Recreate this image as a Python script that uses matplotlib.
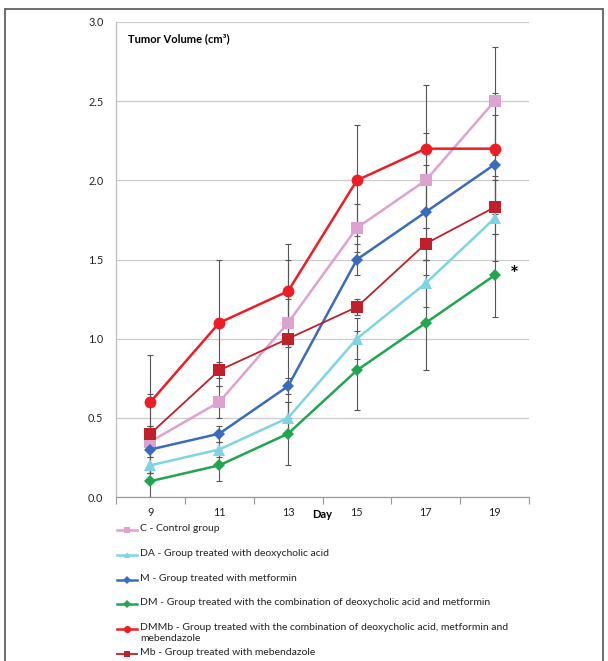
import numpy as np
import matplotlib
matplotlib.use('Agg')
import matplotlib.pyplot as plt
from matplotlib.lines import Line2D
from matplotlib.patches import Rectangle

plt.rcParams['font.family'] = ['Lato', 'DejaVu Sans']

days = ['9', '11', '13', '15', '17', '19']

# mean tumour volume (cm3) per group
c_vals = [0.35, 0.6, 1.1, 1.7, 2.0, 2.5]
da_vals = [0.2, 0.3, 0.5, 1.0, 1.35, 1.76]
m_vals = [0.3, 0.4, 0.7, 1.5, 1.8, 2.1]
dm_vals = [0.1, 0.2, 0.4, 0.8, 1.1, 1.4]
dmmb_vals = [0.6, 1.1, 1.3, 2.0, 2.2, 2.2]
mb_vals = [0.4, 0.8, 1.0, 1.2, 1.6, 1.83]

# error bar half-widths
c_err = [0.1, 0.1, 0.15, 0.15, 0.3, 0.34]
da_err = [0.05, 0.05, 0.1, 0.13, 0.15, 0.27]
m_err = [0.15, 0.05, 0.05, 0.1, 0.3, 0.31]
dm_err = [0.1, 0.1, 0.2, 0.25, 0.3, 0.26]
dmmb_err = [0.3, 0.4, 0.3, 0.35, 0.4, 0.35]
mb_err = [0.25, 0.05, 0.5, 0.05, 0.1, 0.17]

labels = ['C - Control group',
          'DA - Group treated with deoxycholic acid',
          'M - Group treated with metformin',
          'DM - Group treated with the combination of deoxycholic acid and metformin',
          'DMMb - Group treated with the combination of deoxycholic acid, metformin and\nmebendazole',
          'Mb - Group treated with mebendazole']

series = [
    (c_vals, c_err, '#DDA2CE', 's', 8, 1.8),
    (da_vals, da_err, '#7ED4E3', '^', 8, 1.8),
    (m_vals, m_err, '#3A6BBE', 'D', 6.5, 1.8),
    (dm_vals, dm_err, '#1FA64F', 'D', 6.5, 1.8),
    (dmmb_vals, dmmb_err, '#EE1D25', 'o', 8.5, 1.8),
    (mb_vals, mb_err, '#C1202A', 's', 8, 1.3),
]

W, H = 608, 661
fig = plt.figure(figsize=(W / 100, H / 100), dpi=100)
ax = fig.add_axes([116 / W, 1 - 497 / H, 413 / W, 475 / H])

x = np.arange(len(days))
for vals, err, col, mk, ms, lw in series:
    ax.errorbar(x, vals, yerr=err, fmt='none', ecolor='#555555',
                elinewidth=0.8, capsize=2, capthick=0.8, zorder=2)
for vals, err, col, mk, ms, lw in series:
    ax.plot(x, vals, color=col, marker=mk, markersize=ms, linewidth=lw,
            markeredgewidth=0, zorder=3)

ax.set_xlim(-0.5, len(days) - 0.5)
ax.set_ylim(0, 3.0)
ax.set_yticks(np.arange(0, 3.01, 0.5))
ax.set_yticklabels(['%.1f' % v for v in np.arange(0, 3.01, 0.5)])
ax.set_xticks(x)
ax.set_xticklabels(days)
ax.set_xticks(np.arange(-0.5, len(days)), minor=True)
ax.tick_params(axis='x', which='major', length=0, pad=7, labelsize=7.8, colors='#222222')
ax.tick_params(axis='x', which='minor', length=5, color='#999999', width=0.8)
ax.tick_params(axis='y', length=0, pad=9, labelsize=7.8, colors='#222222')

ax.grid(axis='y', color='#CCCCCC', linewidth=0.9)
ax.set_axisbelow(True)
for s in ['top', 'right']:
    ax.spines[s].set_visible(False)
ax.spines['left'].set_color('#BFBFBF')
ax.spines['bottom'].set_color('#999999')
ax.spines['left'].set_linewidth(0.9)
ax.spines['bottom'].set_linewidth(0.9)

ax.text(0.029, 0.964, 'Tumor Volume (cm³)', transform=ax.transAxes,
        fontsize=8, fontweight='bold', va='center', ha='left')
ax.text(0.5, -0.036, 'Day', transform=ax.transAxes,
        fontsize=8, fontweight='bold', va='center', ha='center')
ax.text(5.29, 1.40, '*', fontsize=15, fontweight='bold', ha='center', va='center')

# legend drawn below the plot
leg_y = [530, 555, 580, 604, 629, 654]
for (vals, err, col, mk, ms, lw), lab, yy in zip(series, labels, leg_y):
    yf = 1 - yy / H
    fig.add_artist(Line2D([117 / W, 137 / W], [yf, yf], color=col, linewidth=lw))
    fig.add_artist(Line2D([127 / W], [yf], color=col, marker=mk,
                          markersize=ms * 0.6, markeredgewidth=0))
    fig.text(140 / W, 1 - (yy - 6) / H, lab, fontsize=7.5, va='top', ha='left',
             color='#222222', linespacing=1.35)

# outer frame
fig.add_artist(Rectangle((5 / W, -0.05), 598 / W, 1.05 - 9 / H, fill=False,
                         edgecolor='#555555', linewidth=1.2, transform=fig.transFigure))

fig.savefig('out.png', dpi=100)
